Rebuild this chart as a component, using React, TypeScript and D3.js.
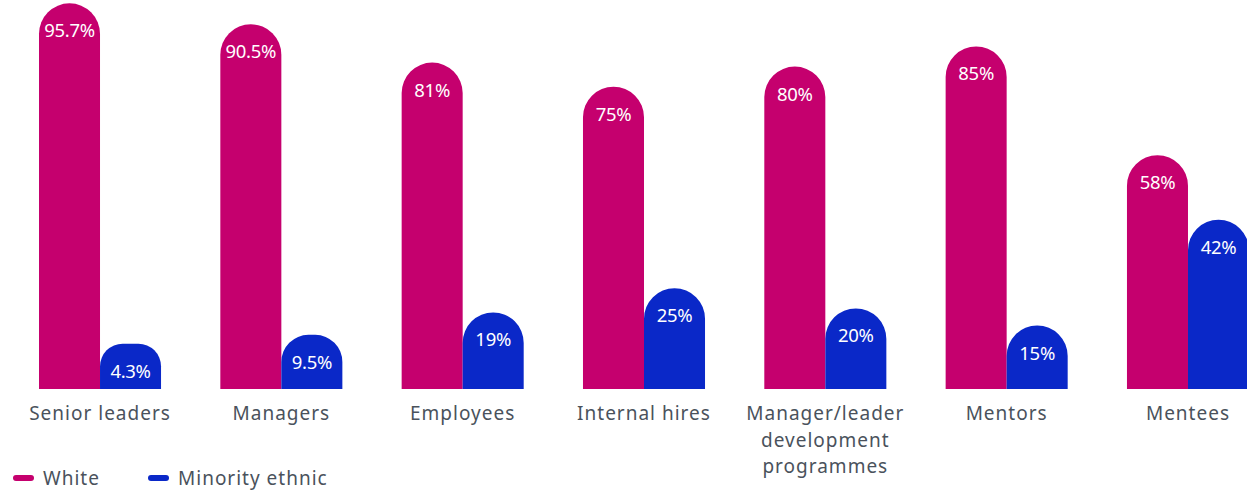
import React from "react";
import * as d3 from "d3";

const categories: string[][] = [
  ["Senior leaders"],
  ["Managers"],
  ["Employees"],
  ["Internal hires"],
  ["Manager/leader", "development", "programmes"],
  ["Mentors"],
  ["Mentees"],
];
const whiteValues = [95.7, 90.5, 81, 75, 80, 85, 58];
const minorityValues = [4.3, 9.5, 19, 25, 20, 15, 42];
const valueLabelsWhite = ["95.7%", "90.5%", "81%", "75%", "80%", "85%", "58%"];
const valueLabelsMinority = ["4.3%", "9.5%", "19%", "25%", "20%", "15%", "42%"];
const seriesNames = ["White", "Minority ethnic"];
const seriesColors = ["#c5006e", "#0a28c8"];

const W = 1247;
const H = 491;
const baseY = 389;
const FONT = "'Noto Sans', sans-serif";
const TEXT_COLOR = "#4a525c";

function barPath(x: number, w: number, top: number, bottom: number) {
  const h = bottom - top;
  const r = Math.min(w / 2, h / 2);
  return `M${x},${bottom}V${top + r}A${r},${r} 0 0 1 ${x + r},${top}H${x + w - r}A${r},${r} 0 0 1 ${x + w},${top + r}V${bottom}Z`;
}

export default function App() {
  const keys = categories.map((c) => c.join(" "));
  const x0 = d3.scaleBand<string>().domain(keys).range([39, 1249]).paddingInner(0.327).paddingOuter(0);
  const x1 = d3.scaleBand<string>().domain(["w", "m"]).range([0, x0.bandwidth()]).padding(0);
  const y = d3.scaleLinear().domain([0, 100]).range([baseY, baseY - 403]);
  // minimum visible height so the label fits inside the bar
  const yMin = d3.scaleLinear().domain([0, 100]).range([baseY - 38, baseY - 208]);
  const topOf = (v: number) => Math.min(y(v), yMin(v));

  const bars: { key: string; x: number; w: number; top: number; color: string; label: string }[] = [];
  keys.forEach((k, i) => {
    const bx = x0(k)!;
    [
      { s: "w", v: whiteValues[i], c: seriesColors[0], l: valueLabelsWhite[i] },
      { s: "m", v: minorityValues[i], c: seriesColors[1], l: valueLabelsMinority[i] },
    ].forEach((d) => {
      bars.push({ key: k + d.s, x: bx + x1(d.s)!, w: x1.bandwidth(), top: topOf(d.v), color: d.c, label: d.l });
    });
  });

  return (
    <svg
      width={W}
      height={H}
      style={{ position: "absolute", left: 0, top: 0, background: "#fff" }}
      fontFamily={FONT}
    >
      {bars.map((b) => (
        <g key={b.key}>
          <path d={barPath(b.x, b.w, b.top, baseY)} fill={b.color} />
          <text
            x={b.x + b.w / 2}
            y={b.top + 34}
            textAnchor="middle"
            fill="#ffffff"
            fontSize={18.5}
            letterSpacing={-0.3}
          >
            {b.label}
          </text>
        </g>
      ))}
      {categories.map((lines, i) => {
        const k = keys[i];
        const cx = x0(k)! + x0.bandwidth() / 2;
        return (
          <text key={k} x={cx} y={420} textAnchor="middle" fill={TEXT_COLOR} fontSize={19} letterSpacing={1}>
            {lines.map((ln, j) => (
              <tspan key={j} x={cx} dy={j === 0 ? 0 : 26.5}>
                {ln}
              </tspan>
            ))}
          </text>
        );
      })}
      <g>
        {seriesNames.map((name, i) => {
          const lx = i === 0 ? 13 : 148;
          return (
            <g key={name}>
              <line
                x1={lx + 3}
                x2={lx + 18}
                y1={478}
                y2={478}
                stroke={seriesColors[i]}
                strokeWidth={6}
                strokeLinecap="round"
              />
              <text x={lx + 30} y={484.5} fill={TEXT_COLOR} fontSize={19} letterSpacing={1}>
                {name}
              </text>
            </g>
          );
        })}
      </g>
    </svg>
  );
}
